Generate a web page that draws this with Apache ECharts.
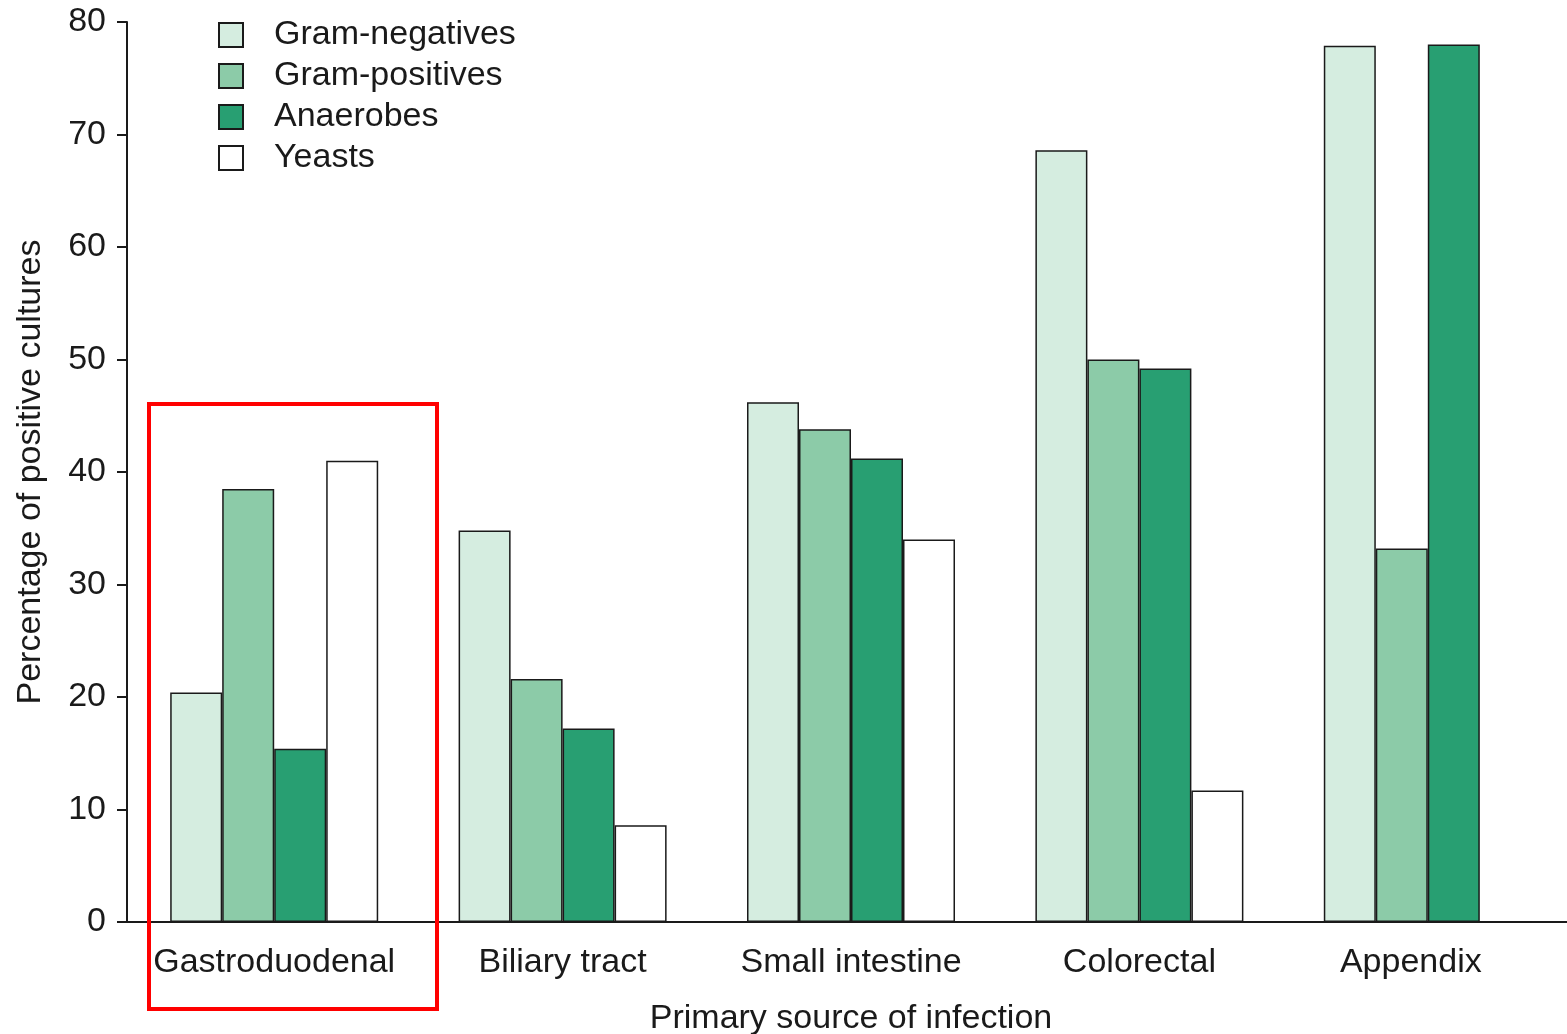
<!DOCTYPE html>
<html><head><meta charset="utf-8">
<script src="https://cdn.jsdelivr.net/npm/echarts@6/dist/echarts.min.js"></script>
<style>html,body{margin:0;padding:0;background:#fff}#c{width:1567px;height:1034px}</style>
</head><body><div id="c"></div>
<script>
const categories = ['Gastroduodenal', 'Biliary tract', 'Small intestine', 'Colorectal', 'Appendix'];
const gramNegatives = [20.4, 34.8, 46.2, 68.6, 77.9];
const gramPositives = [38.5, 21.6, 43.8, 50.0, 33.2];
const anaerobes = [15.4, 17.2, 41.2, 49.2, 78.0];
const yeasts = [41.0, 8.6, 34.0, 11.7, 0];
const seriesNames = ['Gram-negatives', 'Gram-positives', 'Anaerobes', 'Yeasts'];
const yTicks = [0, 10, 20, 30, 40, 50, 60, 70, 80];

const colors = ['#d5ede0', '#8ccba8', '#289f72', '#ffffff'];
const FONT = 'Liberation Sans, Arial, Helvetica, sans-serif';
const FS = 34;
const chart = echarts.init(document.getElementById('c'));
const dataArr = [gramNegatives, gramPositives, anaerobes, yeasts];
chart.setOption({
  animation: false,
  textStyle: {fontFamily: FONT},
  grid: {left: 130, top: 22, width: 1442, height: 900, containLabel: false, outerBoundsMode: 'none'},
  legend: {
    orient: 'vertical', left: 218, top: 18, padding: 0, itemWidth: 24, itemHeight: 24, itemGap: 7,
    icon: 'rect',
    textStyle: {fontSize: FS, lineHeight: 34, color: '#1a1a1a', fontFamily: FONT, padding: [0, 0, 0, 26]},
    data: seriesNames
  },
  xAxis: {
    type: 'category', data: categories,
    axisLine: {show: true, lineStyle: {color: '#1a1a1a', width: 2}},
    axisTick: {show: false},
    axisLabel: {fontSize: FS, color: '#1a1a1a', margin: 24, fontFamily: FONT, interval: 0,
      formatter: v => v === 'Appendix' ? '{a|' + v + '}' : v,
      rich: {a: {fontSize: FS, color: '#1a1a1a', fontFamily: FONT, padding: [0, 34, 0, 0]}}},
    name: 'Primary source of infection', nameLocation: 'middle', nameGap: 80,
    nameTextStyle: {fontSize: FS, color: '#1a1a1a', fontFamily: FONT}
  },
  yAxis: {
    type: 'value', min: 0, max: 80, interval: 10, offset: 3,
    axisLine: {show: true, lineStyle: {color: '#1a1a1a', width: 2}},
    axisTick: {show: true, length: 10, lineStyle: {color: '#1a1a1a', width: 2}},
    axisLabel: {fontSize: FS, color: '#1a1a1a', margin: 21, fontFamily: FONT,
      formatter: v => yTicks.includes(v) ? String(v) : ''},
    splitLine: {show: false},
    name: 'Percentage of positive cultures', nameLocation: 'middle', nameGap: 79,
    nameTextStyle: {fontSize: FS, color: '#1a1a1a', fontFamily: FONT}
  },
  series: seriesNames.map((n, i) => ({
    name: n, type: 'bar', data: dataArr[i], barWidth: 52, barGap: '0%',
    itemStyle: {color: colors[i], borderColor: '#1a1a1a', borderWidth: 1.5}
  }))
});
const y0 = chart.convertToPixel({yAxisIndex: 0}, 0);
chart.setOption({
  graphic: [
    {type: 'line', shape: {x1: 120, y1: y0, x2: 131, y2: y0}, style: {stroke: '#1a1a1a', lineWidth: 2}},
    {type: 'rect', shape: {x: 149, y: 404, width: 288, height: 605}, style: {fill: 'none', stroke: '#ff0000', lineWidth: 4}, z: 100}
  ]
});
</script></body></html>
